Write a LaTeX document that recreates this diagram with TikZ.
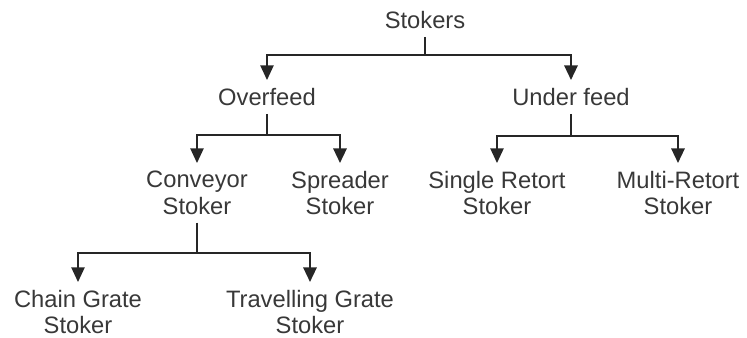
\documentclass[tikz,border=0pt]{standalone}
\usepackage{fontspec}
\setmainfont{Liberation Sans}
\usetikzlibrary{arrows.meta}
\tikzset{class node/.style={anchor=north, align=center, inner xsep=2pt, inner ysep=6pt,
    text=black!78, font=\fontsize{17.8}{19.8}\selectfont}}
\tikzset{tree edge/.style={draw=black!85, line width=1.1pt, -{Triangle[width=10pt,length=11pt]}}}
\tikzset{heavy edge/.style={tree edge, line width=1.7pt}}
\tikzset{stem/.style={draw=black!85, line width=1.1pt}}

\begin{document}
\begin{tikzpicture}
  [x=0.75pt, y=-0.75pt]
  \useasboundingbox (0,0) rectangle (747,337);

  \node [class node] (stokers)   at (425,   3) {Stokers};
  \node [class node] (overfeed)  at (267,  80) {Overfeed};
  \node [class node] (underfeed) at (571,  80) {Under feed};
  \node [class node] (conveyor)  at (197, 163) {Conveyor\\Stoker};
  \node [class node] (spreader)  at (340, 163) {Spreader\\Stoker};
  \node [class node] (single)    at (497, 163) {Single Retort\\Stoker};
  \node [class node] (multi)     at (678, 163) {Multi-Retort\\Stoker};
  \node [class node] (chain)     at ( 78, 282) {Chain Grate\\Stoker};
  \node [class node] (travel)    at (310, 282) {Travelling Grate\\Stoker};

  \coordinate (j0) at (425,  55);
  \coordinate (j1) at (267, 135);
  \coordinate (j2) at (571, 136);
  \coordinate (j3) at (197, 253);

  \draw [stem]        (stokers.south)   -- (j0);
  \draw [tree edge]   (j0)              -| (overfeed.north);
  \draw [heavy edge]  (j0)              -| (underfeed.north);
  \draw [stem]        (overfeed.south)  -- (j1);
  \draw [tree edge]   (j1)              -| (conveyor.north);
  \draw [heavy edge]  (j1)              -| (spreader.north);
  \draw [stem]        (underfeed.south) -- (j2);
  \draw [tree edge]   (j2)              -| (single.north);
  \draw [heavy edge]  (j2)              -| (multi.north);
  \draw [stem]        (conveyor.south)  -- (j3);
  \draw [tree edge]   (j3)              -| (chain.north);
  \draw [heavy edge]  (j3)              -| (travel.north);
\end{tikzpicture}
\end{document}
